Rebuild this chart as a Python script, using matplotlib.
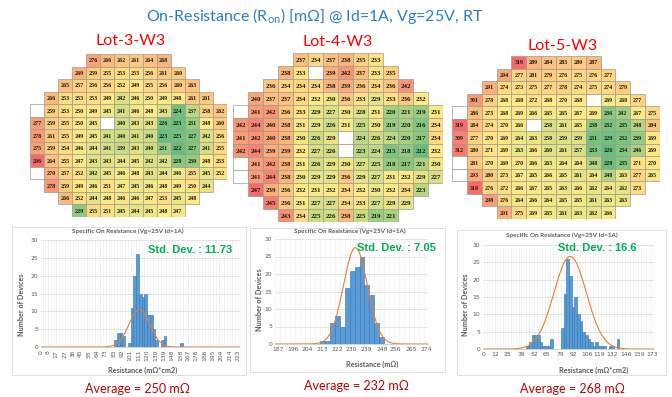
import numpy as np
import matplotlib
matplotlib.use('Agg')
import matplotlib.pyplot as plt
from matplotlib.colors import LinearSegmentedColormap, TwoSlopeNorm
from matplotlib.patches import Rectangle

plt.rcParams['mathtext.fontset'] = 'custom'
plt.rcParams['mathtext.rm'] = 'Lato'

W, H = 672, 397

# ---- wafer map data (rows top -> bottom, None = untested die) ----
row_start = [4, 3, 2, 1, 0, 0, 0, 0, 0, 0, 1, 2, 3]

lot3 = [
    [276, 266, 262, 261, 264, 268],
    [269, 259, 255, 253, 253, 256, 261, 260],
    [265, 257, 256, 256, 252, 249, 255, 256, 260, 263],
    [266, 253, 253, 253, 249, 242, 246, 250, 249, 248, 261, 261],
    [None, 259, 253, 250, 249, 245, 241, 246, 248, 243, 224, 237, 258, 262],
    [277, 259, 255, 250, 245, None, 240, 243, 243, 226, 223, 231, 248, 260],
    [278, 261, 255, 249, 245, 241, 240, 241, 240, 223, 225, 227, 242, 256],
    [275, 259, 254, 246, 244, 241, 239, 243, 240, 231, 222, 227, 241, 255],
    [296, 264, 255, 247, 243, 243, 244, 245, 242, 242, 228, 230, 248, 253],
    [None, 270, 257, 252, 242, 245, 246, 248, 243, 244, 246, 255, 245, 252],
    [278, 259, 249, 246, 251, 247, 245, 246, 248, 249, 250, 244],
    [266, 252, 244, 248, 246, 246, 247, 253, 245, 248],
    [229, 255, 251, 245, 244, 245, 248, 247],
]

lot4 = [
    [237, 234, 237, 238, 235, 233],
    [238, 233, None, 239, 242, 237, 233, 235],
    [236, 234, 234, 234, 238, 239, 236, 234, 236, 242],
    [240, 237, 237, 234, 232, 230, 236, 233, 229, 233, 236, 232],
    [None, 241, 242, 236, 233, 229, 227, 230, 228, 231, 220, 221, 219, 231],
    [242, 244, 240, 238, 231, 229, 226, 231, 225, 230, 219, 220, 216, 234],
    [241, 242, 240, 238, 230, 226, 229, None, 224, 226, 224, 220, 217, 234],
    [242, 244, 239, 239, 232, 227, 226, None, 223, 224, 215, 218, 212, 232],
    [None, 241, 242, 238, 231, 226, 229, 230, 227, 225, 218, 217, 221, 230],
    [None, 241, 244, 238, 230, 229, 229, 236, 229, 227, 231, 232, 229, 227],
    [247, 239, 236, 232, 231, 232, 234, 232, 230, 232, 234, 223],
    [245, 236, 231, 227, 227, 234, 233, 227, 229, 229],
    [243, 234, 225, 226, 238, 225, 219, 221],
]

lot5 = [
    [319, 289, 284, 283, 280, 287],
    [294, 277, 281, 279, 276, 275, 276, 277],
    [291, 274, 273, 275, 277, 278, 274, 275, 274, 279],
    [301, 278, 268, 268, 272, 268, 270, 268, None, 269, 268, 277],
    [None, 286, 273, 268, 269, 266, 265, 265, 267, 269, 236, 242, 267, 275],
    [319, 284, 274, 270, 266, None, 258, 261, 265, 238, 232, 235, 248, 284],
    [309, 277, 270, 269, 264, 263, 258, 259, 259, 231, 229, 232, 239, 269],
    [312, 280, 271, 269, 263, 266, 260, 261, 257, 233, 226, 234, 246, 269],
    [None, 281, 270, 269, 270, 266, 263, 264, 264, 248, 228, 235, 271, 270],
    [None, 293, 280, 273, 267, 265, 266, 265, 261, 264, 248, 263, 277, 265],
    [318, 276, 272, 266, 267, 265, 263, 266, 262, 264, 262, 273],
    [298, 276, 264, 266, 264, 265, 265, 261, 263, 263],
    [291, 275, 269, 265, 261, 263, 262, 266],
]

lot_names = ['Lot-3-W3', 'Lot-4-W3', 'Lot-5-W3']
averages = ['Average = 250 mΩ', 'Average = 232 mΩ', 'Average = 268 mΩ']

# ---- histogram data ----
h1_start, h1_width = 83.0, 3.12
h1_counts = [2, 4, 4, 3, 0, 1, 11, 20, 26, 15, 14, 15, 9, 9, 5, 2, 0, 2, 3,
             0, 0, 0, 0, 0, 1]
h1_ticks = [0, 8, 17, 27, 36, 45, 55, 64, 73, 83, 92, 101, 111, 120, 130, 139,
            148, 158, 167, 176, 186, 195, 204, 214, 223]
h1_fit = (111.5, 11.73, 10.5)   # mean, std, peak

h2_start, h2_width = 211.7, 2.9
h2_counts = [1, 1, 6, 8, 5, 16, 21, 22, 25, 17, 14, 6, 2]
h2_ticks = [187, 196, 204, 213, 222, 230, 239, 248, 256, 265, 274]
h2_fit = (232.5, 7.05, 27.5)

h3_start, h3_width = 44.4, 2.71
h3_counts = [1, 2, 4, 4, 4, 2, 1, 1, 1, 3, 0, 0, 0, 6, 16, 26, 21, 12, 15, 10,
             8, 5, 4, 3, 2, 1, 2, 1, 1, 1, 0, 1, 1, 0, 3]
h3_ticks = [0, 12, 25, 39, 52, 65, 79, 92, 106, 119, 132, 146, 159, 173]
h3_fit = (89.0, 16.6, 26.7)

std_texts = ['Std. Dev. : 11.73', 'Std. Dev. : 7.05', 'Std. Dev. : 16.6']

fig = plt.figure(figsize=(W / 100, H / 100), dpi=100)
fig.patch.set_facecolor('white')


def px(x0, y0, x1, y1):
    return [x0 / W, 1 - y1 / H, (x1 - x0) / W, (y1 - y0) / H]


def ftext(x, y, s, **kw):
    fig.text(x / W, 1 - y / H, s, **kw)


cmap = LinearSegmentedColormap.from_list('gyr', ['#63BE7B', '#FFEB84', '#F8696B'])


def draw_wafer(box, rows, fs):
    ax = fig.add_axes(px(*box))
    vals = [v for r in rows for v in r if v is not None]
    norm = TwoSlopeNorm(vmin=min(vals), vcenter=np.median(vals), vmax=max(vals))
    for r, (s, row) in enumerate(zip(row_start, rows)):
        for k, v in enumerate(row):
            c = s + k
            fc = 'white' if v is None else cmap(norm(v))
            ax.add_patch(Rectangle((c, r), 1, 1, facecolor=fc, edgecolor='#9a9a9a', lw=0.5))
            if v is not None:
                ax.text(c + 0.5, r + 0.55, str(v), ha='center', va='center', fontsize=fs,
                        family='Liberation Serif', weight='bold', color='#1a1a1a')
    ax.set_xlim(0, 14)
    ax.set_ylim(13, 0)
    ax.axis('off')


draw_wafer((30, 54, 227, 217), lot3, 4.3)
draw_wafer((233, 53, 443, 222), lot4, 5.0)
draw_wafer((452, 56, 660, 219), lot5, 4.3)


def draw_hist(frame, box, start, width, counts, ticks, xlim, fit, rot, std_txt, std_xy,
              title_xy, xlabel, xlabel_xy, ylabel_xy):
    # chart frame
    fr = fig.add_axes(px(*frame))
    fr.set_xticks([]); fr.set_yticks([])
    for sp in fr.spines.values():
        sp.set_color('#d9d9d9'); sp.set_linewidth(0.6)
    fr.patch.set_alpha(0)

    ax = fig.add_axes(px(*box))
    x = start + width * np.arange(len(counts))
    edges = start + width * np.arange(-40, 80)
    for e in edges:
        if xlim[0] <= e <= xlim[1]:
            ax.axvline(e, color='#eeeeee', lw=0.4, zorder=0)
    ax.bar(x, counts, width=width, align='edge', color='#5B9BD5', edgecolor='#2E75B6',
           lw=0.4, zorder=2)
    xs = np.linspace(xlim[0], xlim[1], 400)
    m, sd, pk = fit
    ax.plot(xs, pk * np.exp(-0.5 * ((xs - m) / sd) ** 2), color='#ED7D31', lw=0.8, zorder=3)
    ax.set_xlim(*xlim)
    ax.set_ylim(0, 30)
    ax.set_yticks(range(0, 31, 5))
    ax.yaxis.grid(True, color='#d9d9d9', lw=0.5)
    ax.set_axisbelow(True)
    ax.set_xticks(ticks)
    ax.set_xticklabels([str(t) for t in ticks], rotation=rot)
    ax.tick_params(length=0, labelsize=4.3, colors='#595959', pad=2)
    for sp in ['top', 'right', 'left']:
        ax.spines[sp].set_visible(False)
    ax.spines['bottom'].set_color('#bfbfbf')
    ax.spines['bottom'].set_linewidth(0.5)

    ftext(*std_xy, std_txt, ha='left', va='center', fontsize=8, weight='bold',
          color='#00B050', family='Liberation Sans')
    ftext(*title_xy, 'Specific On Resistance (Vg=25V Id=1A)', ha='center', va='center',
          fontsize=4.6, color='#595959', family='Lato', weight='bold')
    ftext(*xlabel_xy, xlabel, ha='center', va='center', fontsize=5.2, color='#595959',
          family='Lato', weight='bold')
    ftext(*ylabel_xy, 'Number of Devices', ha='center', va='center', fontsize=5.2,
          color='#595959', family='Lato', weight='bold', rotation=90)


draw_hist((12, 227, 246, 375), (41, 240, 240, 347), h1_start, h1_width, h1_counts,
          h1_ticks, (0, 225.7), h1_fit, 90, std_texts[0], (148, 250), (128, 231),
          'Resistance (mΩ*cm2)', (143, 370), (22, 305))
draw_hist((250, 228, 445, 372), (275, 239, 428, 344), h2_start, h2_width, h2_counts,
          h2_ticks, (185.4, 275), h2_fit, 0, std_texts[1], (357, 248), (350, 231),
          'Resistance (mΩ)', (372, 364), (259, 300))
draw_hist((457, 230, 666, 375), (483, 245, 654, 349), h3_start, h3_width, h3_counts,
          h3_ticks, (0, 174.6), h3_fit, 0, std_texts[2], (558, 248), (562, 235),
          'Resistance (mΩ*cm2)', (594, 370), (465, 305))

# titles
ftext(315, 16, 'On-Resistance (R$_{\\mathrm{on}}$) [mΩ] @ Id=1A, Vg=25V, RT', ha='center',
      va='center', fontsize=11.5, color='#2E7CC8', family='Lato')
for name, (x, y) in zip(lot_names, [(131, 41), (338, 42), (563, 46)]):
    ftext(x, y, name, ha='center', va='center', fontsize=11.5, color='#FF0000', family='Lato')
for avg, (x, y) in zip(averages, [(137, 389), (356, 386), (572, 389)]):
    ftext(x, y, avg, ha='center', va='center', fontsize=9, color='#C00000', family='Lato')

fig.savefig('out.png', dpi=100)
